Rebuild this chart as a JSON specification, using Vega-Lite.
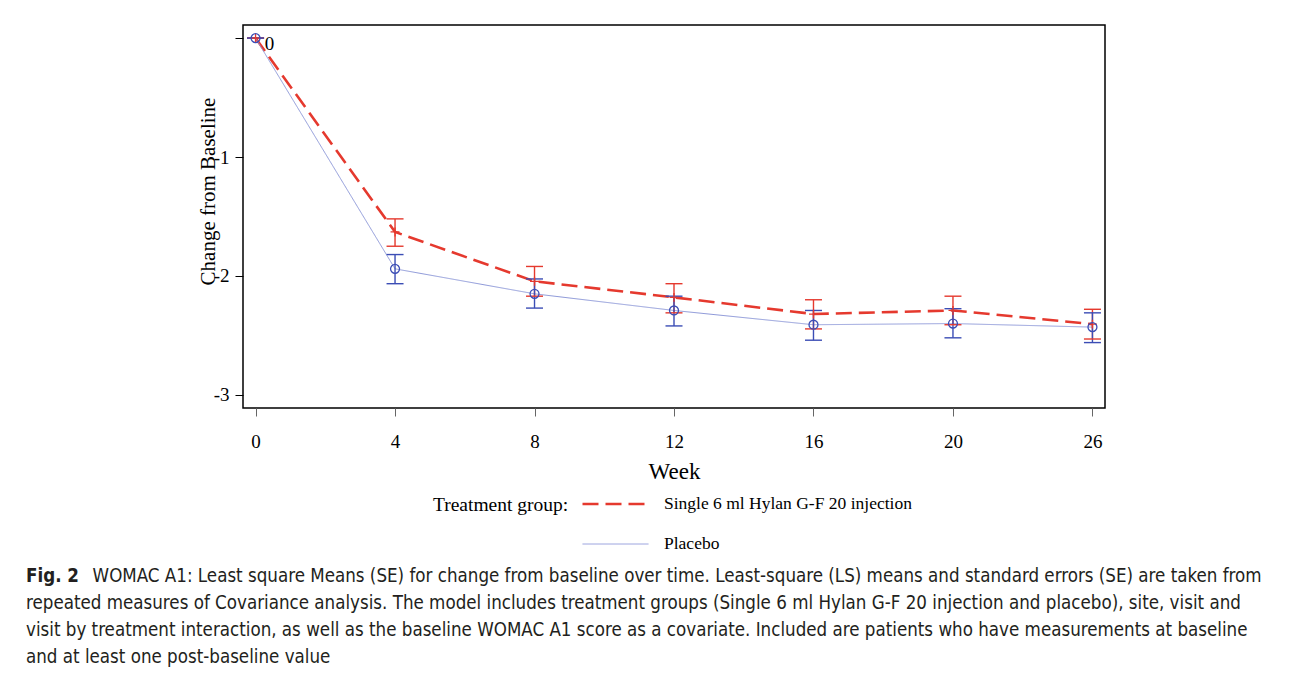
{
  "$schema": "https://vega.github.io/schema/vega-lite/v6.json",
  "width": 862,
  "height": 383,
  "autosize": {"type": "none"},
  "padding": {"left": 243, "top": 25, "right": 187, "bottom": 266},
  "background": "white",
  "title": {
    "text": "Fig. 2",
    "subtitle": [
      "\u2800\u2800\u2800\u2800\u2800 WOMAC A1: Least square Means (SE) for change from baseline over time. Least-square (LS) means and standard errors (SE) are taken from",
      "repeated measures of Covariance analysis. The model includes treatment groups (Single 6 ml Hylan G-F 20 injection and placebo), site, visit and",
      "visit by treatment interaction, as well as the baseline WOMAC A1 score as a covariate. Included are patients who have measurements at baseline",
      "and at least one post-baseline value"
    ],
    "orient": "bottom",
    "anchor": "start",
    "frame": "group",
    "font": "DejaVu Sans Condensed",
    "fontSize": 18.6,
    "fontWeight": "bold",
    "lineHeight": 18.6,
    "color": "#231f20",
    "subtitleFont": "DejaVu Sans Condensed",
    "subtitleFontSize": 18.6,
    "subtitleFontWeight": "normal",
    "subtitleLineHeight": 27,
    "subtitlePadding": -18.6,
    "subtitleColor": "#231f20",
    "dx": -217,
    "offset": 14
  },
  "data": {
    "values": [
      {"week": 0, "group": "Single 6 ml Hylan G-F 20 injection", "mean": 0, "lo": 0, "hi": 0},
      {"week": 4, "group": "Single 6 ml Hylan G-F 20 injection", "mean": -1.63, "lo": -1.75, "hi": -1.52},
      {"week": 8, "group": "Single 6 ml Hylan G-F 20 injection", "mean": -2.045, "lo": -2.17, "hi": -1.92},
      {"week": 12, "group": "Single 6 ml Hylan G-F 20 injection", "mean": -2.18, "lo": -2.31, "hi": -2.065},
      {"week": 16, "group": "Single 6 ml Hylan G-F 20 injection", "mean": -2.32, "lo": -2.445, "hi": -2.2},
      {"week": 20, "group": "Single 6 ml Hylan G-F 20 injection", "mean": -2.29, "lo": -2.41, "hi": -2.17},
      {"week": 26, "group": "Single 6 ml Hylan G-F 20 injection", "mean": -2.405, "lo": -2.53, "hi": -2.28},
      {"week": 0, "group": "Placebo", "mean": 0, "lo": 0, "hi": 0},
      {"week": 4, "group": "Placebo", "mean": -1.94, "lo": -2.065, "hi": -1.82},
      {"week": 8, "group": "Placebo", "mean": -2.15, "lo": -2.27, "hi": -2.025},
      {"week": 12, "group": "Placebo", "mean": -2.29, "lo": -2.42, "hi": -2.17},
      {"week": 16, "group": "Placebo", "mean": -2.41, "lo": -2.54, "hi": -2.29},
      {"week": 20, "group": "Placebo", "mean": -2.4, "lo": -2.52, "hi": -2.275},
      {"week": 26, "group": "Placebo", "mean": -2.43, "lo": -2.56, "hi": -2.31}
    ]
  },
  "encoding": {
    "x": {
      "field": "week",
      "type": "ordinal",
      "scale": {"type": "point", "padding": 0.09},
      "axis": {
        "title": "Week",
        "labelAngle": 0,
        "domain": false,
        "tickSize": 8,
        "tickColor": "#666",
        "labelPadding": 16,
        "labelFont": "Liberation Serif",
        "labelFontSize": 19,
        "labelColor": "black",
        "titleFont": "Liberation Serif",
        "titleFontSize": 23,
        "titleFontWeight": "normal",
        "titleColor": "black",
        "titlePadding": 9
      }
    }
  },
  "layer": [
    {
      "mark": {"type": "line"},
      "encoding": {
        "y": {
          "field": "mean",
          "type": "quantitative",
          "scale": {"domain": [-3.11, 0.11], "nice": false, "zero": false},
          "axis": {
            "title": "Change from Baseline",
            "values": [0, -1, -2, -3],
            "labelExpr": "datum.value == 0 ? '' : toString(datum.value)",
            "grid": false,
            "domain": false,
            "tickSize": 8,
            "tickColor": "black",
            "labelPadding": 6,
            "labelFont": "Liberation Serif",
            "labelFontSize": 19,
            "labelColor": "black",
            "titleFont": "Liberation Serif",
            "titleFontSize": 21,
            "titleFontWeight": "normal",
            "titleColor": "black",
            "titleAngle": -90,
            "titleAlign": "center",
            "titleBaseline": "alphabetic",
            "titleX": -29,
            "titleY": 166
          }
        },
        "color": {
          "field": "group",
          "type": "nominal",
          "scale": {"domain": ["Single 6 ml Hylan G-F 20 injection", "Placebo"], "range": ["#e5392e", "#8e99d9"]},
          "legend": {"title": "Treatment group:"}
        },
        "strokeDash": {
          "field": "group",
          "type": "nominal",
          "scale": {"domain": ["Single 6 ml Hylan G-F 20 injection", "Placebo"], "range": [[16, 7], [1, 0]]},
          "legend": {"title": "Treatment group:"}
        },
        "strokeWidth": {
          "field": "group",
          "type": "nominal",
          "scale": {"domain": ["Single 6 ml Hylan G-F 20 injection", "Placebo"], "range": [2.6, 1]},
          "legend": {"title": "Treatment group:"}
        }
      }
    },
    {
      "mark": {"type": "rule", "strokeWidth": 1.4},
      "encoding": {
        "y": {"field": "lo", "type": "quantitative"},
        "y2": {"field": "hi"},
        "color": {"condition": {"test": "datum.group == 'Placebo'", "value": "#3b4db5"}, "value": "#e5392e"}
      }
    },
    {
      "mark": {"type": "tick", "size": 17, "thickness": 1.4, "orient": "horizontal", "opacity": 1},
      "encoding": {
        "y": {"field": "lo", "type": "quantitative"},
        "color": {"condition": {"test": "datum.group == 'Placebo'", "value": "#3b4db5"}, "value": "#e5392e"}
      }
    },
    {
      "mark": {"type": "tick", "size": 17, "thickness": 1.4, "orient": "horizontal", "opacity": 1},
      "encoding": {
        "y": {"field": "hi", "type": "quantitative"},
        "color": {"condition": {"test": "datum.group == 'Placebo'", "value": "#3b4db5"}, "value": "#e5392e"}
      }
    },
    {
      "mark": {"type": "point", "filled": false, "size": 80, "strokeWidth": 1.3, "opacity": 1},
      "encoding": {
        "y": {"field": "mean", "type": "quantitative"},
        "color": {"condition": {"test": "datum.group == 'Placebo'", "value": "#3b4db5"}, "value": "#e5392e"},
        "shape": {"condition": {"test": "datum.group == 'Placebo'", "value": "circle"}, "value": "M-1,0H1M0,-1V1"}
      }
    },
    {
      "data": {"values": [{"week": 0, "mean": 0, "label": "0"}]},
      "mark": {"type": "text", "font": "Liberation Serif", "fontSize": 19, "dx": 14, "dy": 6, "color": "black"},
      "encoding": {
        "y": {"field": "mean", "type": "quantitative"},
        "text": {"field": "label"}
      }
    }
  ],
  "config": {
    "view": {"stroke": "black", "strokeWidth": 1.5},
    "legend": {
      "orient": "none",
      "legendX": 190,
      "legendY": 471,
      "titleOrient": "left",
      "titleAnchor": "start",
      "direction": "vertical",
      "symbolType": "stroke",
      "symbolSize": 4356,
      "clipHeight": 16,
      "labelFont": "Liberation Serif",
      "labelFontSize": 17.5,
      "labelColor": "black",
      "titleFont": "Liberation Serif",
      "titleFontSize": 19.5,
      "titleFontWeight": "normal",
      "titleColor": "black",
      "titlePadding": 12,
      "rowPadding": 22,
      "labelOffset": 14,
      "labelLimit": 400
    }
  }
}
